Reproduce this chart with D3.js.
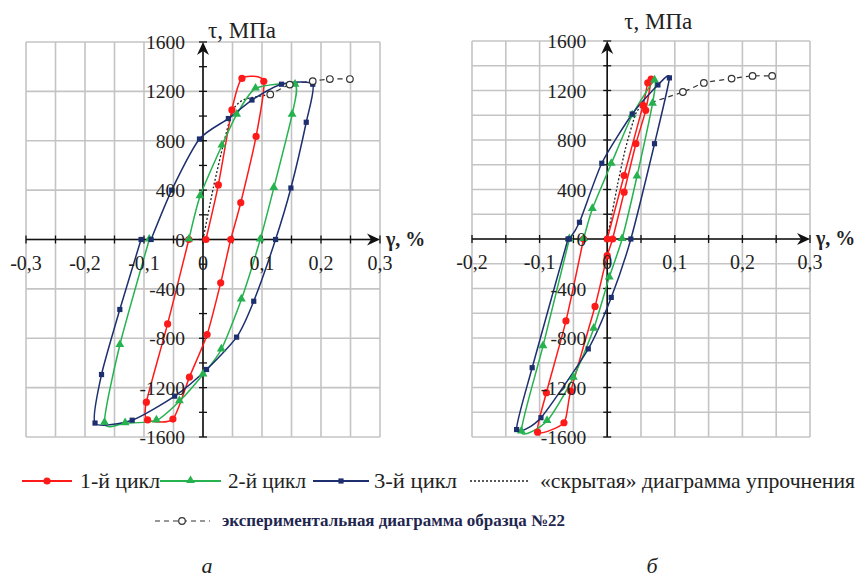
<!DOCTYPE html>
<html>
<head>
<meta charset="utf-8">
<script src="https://cdnjs.cloudflare.com/ajax/libs/d3/7.8.5/d3.min.js"></script>
<style>
  svg text { font-family: "Liberation Serif", "Times New Roman", serif !important; }
</style>
</head>
<body style="margin:0">
<div id="chart"></div>
<script>
// ---- data (gamma in %, tau in MPa) ----
// panel "а"
var cycle1A = [[0.005,0],[0.026,442],[0.049,1050],[0.066,1305],[0.103,1282],[0.09,835],[0.064,298],[0.047,0],[0.03,-351],[0.007,-770],[-0.023,-1115],[-0.051,-1455],[-0.094,-1462],[-0.096,-1318],[-0.06,-684],[-0.024,0]];
var cycle2A = [[-0.024,0],[-0.005,351],[0.032,761],[0.057,1012],[0.089,1223],[0.156,1254],[0.151,1012],[0.12,418],[0.097,0],[0.065,-486],[0.031,-891],[0,-1093],[-0.04,-1310],[-0.079,-1465],[-0.132,-1488],[-0.167,-1485],[-0.141,-855],[-0.091,0]];
var cycle3A = [[-0.088,0],[-0.053,400],[-0.006,814],[0.043,980],[0.083,1130],[0.133,1258],[0.186,1258],[0.175,950],[0.149,417],[0.123,0],[0.086,-500],[0.057,-791],[0.006,-1053],[-0.048,-1269],[-0.12,-1464],[-0.183,-1487],[-0.172,-1094],[-0.141,-567],[-0.105,0]];
var hiddenA = [[0,0],[0.018,430],[0.035,780],[0.051,1050],[0.07,1135],[0.114,1175]];
var expA = [[0.114,1175],[0.147,1255],[0.186,1283],[0.215,1300],[0.249,1300]];

// panel "б"
var cycle1B = [[0,0],[0.025,513],[0.053,1080],[0.06,1262],[0.065,1292],[0.057,1040],[0.0425,770],[0.025,378],[0.008,0],[0,-135],[-0.018,-545],[-0.054,-1229],[-0.064,-1485],[-0.103,-1561],[-0.09,-1242],[-0.061,-662],[-0.035,0]];
var cycle2B = [[-0.035,0],[-0.022,243],[0.006,608],[0.037,1000],[0.07,1282],[0.067,1094],[0.044,505],[0.022,0],[0.003,-310],[-0.02,-725],[-0.05,-1120],[-0.089,-1470],[-0.127,-1555],[-0.095,-866],[-0.056,0]];
var cycle3B = [[-0.056,0],[-0.041,135],[-0.008,612],[0.037,1010],[0.075,1245],[0.092,1302],[0.07,770],[0.035,0],[0.006,-472],[-0.028,-888],[-0.098,-1444],[-0.134,-1540],[-0.111,-1040],[-0.058,0]];
var hiddenB = [[0,0],[0.015,430],[0.027,730],[0.042,1010],[0.052,1080]];
var expB = [[0.112,1188],[0.143,1261],[0.184,1296],[0.215,1318],[0.244,1318]];

var xTicksA = [-0.3,-0.2,-0.1,0,0.1,0.2,0.3];
var xTicksB = [-0.2,-0.1,0,0.1,0.2,0.3];
var yTicks = [1600,1200,800,400,0,-400,-800,-1200,-1600];

var legendNames = ["1-й цикл","2-й цикл","3-й цикл","«скрытая» диаграмма упрочнения"];
var expName = "экспериментальная диаграмма образца  №22";
var panelLetters = ["а","б"];

var colors = {c1: "#ff1a1a", c2: "#25b24f", c3: "#1d2f6f"};
var fontNames = ["Liberation Serif"];

var width = 866, height = 581;
var svg = d3.select("#chart").append("svg")
    .attr("width", width)
    .attr("height", height)
    .style("font-family", "'" + fontNames[0] + "'");
var marks = svg.append("g");

var fmt = function(d){ return d === 0 ? "0" : String(d).replace(".", ","); };

// all texts go straight onto the svg root
function txt(x, y, size){
  return svg.append("text").attr("x", x).attr("y", y)
    .style("font-family", "'" + fontNames[0] + "'")
    .attr("font-size", size).attr("fill", "#222");
}

function marker(g, type, color, x, y){
  if (type == "circle"){
    g.append("circle").attr("cx", x).attr("cy", y).attr("r", 3.6).attr("fill", color);
  } else if (type == "tri"){
    g.append("path").attr("d", d3.symbol().type(d3.symbolTriangle).size(34)())
      .attr("transform", "translate(" + x + "," + (y - 0.5) + ")").attr("fill", color);
  } else if (type == "square"){
    g.append("rect").attr("x", x - 2.6).attr("y", y - 2.6).attr("width", 5.2).attr("height", 5.2).attr("fill", color);
  } else if (type == "open"){
    g.append("circle").attr("cx", x).attr("cy", y).attr("r", 3.3)
      .attr("fill", "#fff").attr("stroke", "#333").attr("stroke-width", 1.2);
  }
}

function drawPanel(p){
  var x = d3.scaleLinear().domain(p.xDomain).range(p.xRange);
  var y = d3.scaleLinear().domain([-1600, 1600]).range(p.yRange);
  var g = marks.append("g");

  // grid
  var xs = d3.range(Math.round(p.xDomain[0]*20), Math.round(p.xDomain[1]*20) + 1).map(function(d){ return d/20; });
  var ys = d3.range(-1600, 1601, p.yGrid);
  g.selectAll(".vg").data(xs).enter().append("line")
    .attr("x1", function(d){ return x(d); }).attr("x2", function(d){ return x(d); })
    .attr("y1", y(1600)).attr("y2", y(-1600))
    .attr("stroke", "#c4c4c4").attr("stroke-width", 1.6);
  g.selectAll(".hg").data(ys).enter().append("line")
    .attr("y1", function(d){ return y(d); }).attr("y2", function(d){ return y(d); })
    .attr("x1", x(p.xDomain[0])).attr("x2", x(p.xDomain[1]))
    .attr("stroke", "#c4c4c4").attr("stroke-width", 1.6);

  // axes with arrows
  var x0 = x(0), y0 = y(0);
  g.append("line").attr("x1", x(p.xDomain[0])).attr("x2", x(p.xDomain[1]) - 4)
    .attr("y1", y0).attr("y2", y0).attr("stroke", "#111").attr("stroke-width", 1.6);
  g.append("line").attr("x1", x0).attr("x2", x0)
    .attr("y1", y(-1600)).attr("y2", y(1600) + 4).attr("stroke", "#111").attr("stroke-width", 1.6);
  var xe = x(p.xDomain[1]), ye = y(1600);
  g.append("path").attr("d", "M" + xe + "," + y0 + "L" + (xe - 13) + "," + (y0 - 6) + "L" + (xe - 9) + "," + y0 + "L" + (xe - 13) + "," + (y0 + 6) + "Z").attr("fill", "#111");
  g.append("path").attr("d", "M" + x0 + "," + ye + "L" + (x0 - 6) + "," + (ye + 13) + "L" + x0 + "," + (ye + 9) + "L" + (x0 + 6) + "," + (ye + 13) + "Z").attr("fill", "#111");

  g.selectAll(".xt").data(xs).enter().append("line")
    .attr("x1", function(d){ return x(d); }).attr("x2", function(d){ return x(d); })
    .attr("y1", y0 - 4).attr("y2", y0 + 4).attr("stroke", "#111").attr("stroke-width", 1.3);
  g.selectAll(".yt").data(d3.range(-1600, 1601, 200)).enter().append("line")
    .attr("y1", function(d){ return y(d); }).attr("y2", function(d){ return y(d); })
    .attr("x1", x0 - 4).attr("x2", x0 + 4).attr("stroke", "#111").attr("stroke-width", 1.3);

  // tick labels
  p.xTicks.forEach(function(d){
    txt(x(d), y0 + 30, 20).attr("text-anchor", "middle").text(fmt(d));
  });
  yTicks.forEach(function(d){
    txt(x0 - p.labelGap, y(d) + 7, 19.5).attr("text-anchor", "end").text(fmt(d));
  });

  // axis titles
  txt(x0 + p.titleDx, p.titleY, 23).text("τ, МПа");
  txt(xe + 6, y0 + 6, 20).attr("font-weight", "bold").text("γ, %");

  var line = d3.line().x(function(d){ return x(d[0]); }).y(function(d){ return y(d[1]); })
    .curve(d3.curveCardinal.tension(0.35));

  // hidden hardening diagram + experimental curve
  g.append("path").datum(p.hidden).attr("d", line).attr("fill", "none")
    .attr("stroke", "#222").attr("stroke-width", 1.3).attr("stroke-dasharray", "2,2");
  g.append("path").datum([p.hidden[p.hidden.length - 1]].concat(p.exp)).attr("d", line).attr("fill", "none")
    .attr("stroke", "#333").attr("stroke-width", 1.2).attr("stroke-dasharray", "5,4");

  var series = [
    {data: p.c1, color: colors.c1, m: "circle"},
    {data: p.c2, color: colors.c2, m: "tri"},
    {data: p.c3, color: colors.c3, m: "square"}
  ];
  series.forEach(function(s){
    g.append("path").datum(s.data).attr("d", line).attr("fill", "none")
      .attr("stroke", s.color).attr("stroke-width", 1.5);
  });
  series.forEach(function(s){
    s.data.forEach(function(d){ marker(g, s.m, s.color, x(d[0]), y(d[1])); });
  });
  p.exp.forEach(function(d){ marker(g, "open", "#333", x(d[0]), y(d[1])); });

  txt(p.letterX, 573, 22).attr("text-anchor", "middle").attr("font-style", "italic").text(p.letter);
}

drawPanel({xDomain: [-0.3, 0.3], xRange: [26, 380], yRange: [437, 42], yGrid: 400, xTicks: xTicksA,
  labelGap: 18, titleDx: 5, titleY: 38, c1: cycle1A, c2: cycle2A, c3: cycle3A, hidden: hiddenA, exp: expA,
  letter: panelLetters[0], letterX: 207});
drawPanel({xDomain: [-0.2, 0.3], xRange: [472, 810], yRange: [437, 41], yGrid: 200, xTicks: xTicksB,
  labelGap: 21, titleDx: 17, titleY: 29, c1: cycle1B, c2: cycle2B, c3: cycle3B, hidden: hiddenB, exp: expB,
  letter: panelLetters[1], letterX: 652});

// legend
var leg = marks.append("g");
var legItems = [
  {x1: 22, x2: 72, tx: 80, color: colors.c1, m: "circle", w: 80},
  {x1: 160, x2: 221, tx: 228, color: colors.c2, m: "tri", w: 78},
  {x1: 313, x2: 369, tx: 374, color: colors.c3, m: "square", w: 83},
  {x1: 470, x2: 530, tx: 540, color: "#222", m: null, w: 315}
];
legItems.forEach(function(it, i){
  leg.append("line").attr("x1", it.x1).attr("x2", it.x2).attr("y1", 481).attr("y2", 481)
    .attr("stroke", it.color).attr("stroke-width", it.m ? 1.8 : 1.3)
    .attr("stroke-dasharray", it.m ? null : "2,2");
  if (it.m) marker(leg, it.m, it.color, (it.x1 + it.x2)/2, 481);
  txt(it.tx, 488, 21).attr("textLength", it.w).attr("lengthAdjust", "spacingAndGlyphs").text(legendNames[i]);
});
leg.append("line").attr("x1", 155).attr("x2", 210).attr("y1", 521).attr("y2", 521)
  .attr("stroke", "#333").attr("stroke-width", 1.2).attr("stroke-dasharray", "5,4");
marker(leg, "open", "#333", 182, 521);
txt(222, 526, 16).attr("font-weight", "bold").attr("fill", "#1f2750")
  .attr("textLength", 343).attr("lengthAdjust", "spacingAndGlyphs").text(expName);
</script>
</body>
</html>
